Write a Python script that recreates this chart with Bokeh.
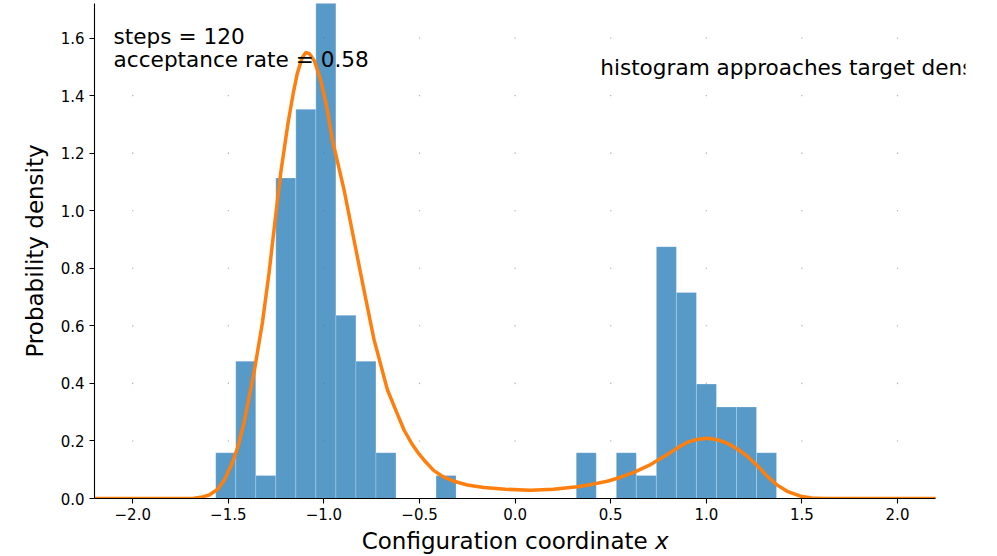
import numpy as np
from bokeh.plotting import figure
from bokeh.models import ColumnDataSource, Range1d, FixedTicker, Label
from bokeh.embed import file_html
from bokeh.resources import INLINE

# Metropolis samples: histogram counts over equal-width bins
n_steps = 120
acceptance_rate = 0.58
bin_start = -1.566
bin_width = 0.10476
counts = [2, 6, 1, 14, 17, 23, 8, 6, 2, 0, 0, 1, 0, 0,
          0, 0, 0, 0, 2, 0, 2, 1, 11, 9, 5, 4, 4, 2]

# Target density
curve_x = [-2.2, -1.75, -1.68, -1.644, -1.60, -1.557, -1.52, -1.479, -1.45, -1.418,
           -1.366, -1.322, -1.287, -1.257, -1.226, -1.188, -1.16, -1.139, -1.115, -1.095,
           -1.075, -1.05, -1.017, -0.985, -0.956, -0.895, -0.843, -0.791, -0.738, -0.668,
           -0.62, -0.581, -0.54, -0.503, -0.465, -0.425, -0.375, -0.320, -0.25, -0.163,
           -0.05, 0.081, 0.2, 0.325, 0.40, 0.482, 0.552, 0.621, 0.70, 0.796,
           0.85, 0.900, 0.95, 1.005, 1.06, 1.110, 1.16, 1.214, 1.27, 1.319,
           1.37, 1.423, 1.493, 1.55, 1.62, 2.2]
curve_y = [0.0, 0.0, 0.001, 0.004, 0.012, 0.031, 0.065, 0.124, 0.18, 0.263,
           0.436, 0.61, 0.784, 0.957, 1.131, 1.304, 1.41, 1.478, 1.53, 1.55,
           1.545, 1.52, 1.455, 1.36, 1.247, 1.073, 0.899, 0.726, 0.552, 0.378,
           0.30, 0.238, 0.19, 0.155, 0.125, 0.097, 0.075, 0.060, 0.047, 0.038,
           0.032, 0.029, 0.032, 0.041, 0.049, 0.060, 0.074, 0.091, 0.115, 0.153,
           0.176, 0.195, 0.205, 0.209, 0.204, 0.192, 0.173, 0.147, 0.112, 0.077,
           0.047, 0.025, 0.008, 0.002, 0.0, 0.0]

x_ticks = [-2.0, -1.5, -1.0, -0.5, 0.0, 0.5, 1.0, 1.5, 2.0]
y_ticks = [0.0, 0.2, 0.4, 0.6, 0.8, 1.0, 1.2, 1.4, 1.6]

FONT = "DejaVu Sans"
X_LO, X_HI = -2.2, 2.2
NBSP = "\u00a0"

counts_arr = np.array(counts, dtype=float)
lefts = bin_start + bin_width * np.arange(len(counts))
density = counts_arr / (n_steps * bin_width)
hist_src = ColumnDataSource(dict(left=lefts, right=lefts + bin_width,
                                 top=density, bottom=np.zeros_like(density)))

# the plotting frame runs a little past the axis so the note can overhang it
p = figure(width=997, height=556, output_backend="svg", toolbar_location=None,
           x_range=Range1d(X_LO, 2.3556), y_range=Range1d(0, 1.72),
           min_border_left=94, min_border_right=32, min_border_top=3,
           min_border_bottom=57)
p.outline_line_color = None
p.background_fill_color = "white"
p.border_fill_color = "white"
p.xgrid.visible = False
p.ygrid.visible = False

# faint grid marks at tick intersections
gx, gy = np.meshgrid(x_ticks, y_ticks[1:])
p.scatter(gx.ravel(), gy.ravel(), size=1.6, color="#bdbdbd", line_color=None)

p.quad(source=hist_src, left="left", right="right", top="top", bottom="bottom",
       fill_color="#1f77b4", fill_alpha=0.75, line_color="white",
       line_alpha=0.4, line_width=0.6)

p.line(curve_x, curve_y, line_color="#ff7f0e", line_width=3.5)

for ax in (p.xaxis[0], p.yaxis[0]):
    ax.axis_line_color = "black"
    ax.axis_line_width = 1.1
    ax.major_tick_line_color = "black"
    ax.major_tick_line_width = 1.1
    ax.major_tick_out = 5
    ax.major_tick_in = 0
    ax.minor_tick_line_color = None
    ax.major_label_text_font = FONT
    ax.major_label_text_font_size = "15px"
    ax.major_label_text_color = "black"
    ax.axis_label_text_font = FONT
    ax.axis_label_text_font_size = "23px"
    ax.axis_label_text_font_style = "normal"
    ax.axis_label_text_color = "black"

p.xaxis.bounds = (X_LO, X_HI)
p.xaxis.ticker = FixedTicker(ticks=x_ticks)
p.yaxis.ticker = FixedTicker(ticks=y_ticks)
p.xaxis.major_label_overrides = {t: f"{t:.1f}".replace("-", "\u2212") for t in x_ticks}
p.yaxis.major_label_overrides = {t: f"{t:.1f}" for t in y_ticks}
p.xaxis.major_label_standoff = 4
p.yaxis.major_label_standoff = 5
# trailing no-break spaces keep the title centred under the drawn axis span
p.xaxis.axis_label = "Configuration coordinate \U0001D639" + NBSP * 4
p.yaxis.axis_label = "Probability density"
p.xaxis.axis_label_standoff = 5
p.xaxis.axis_label_text_line_height = 0.9
p.xaxis.major_label_text_line_height = 0.9
p.yaxis.axis_label_standoff = 10

p.add_layout(Label(x=-2.1, y=1.604, text=f"steps = {n_steps}", text_font=FONT,
                   text_font_size="21.6px", text_color="black",
                   text_baseline="alphabetic"))
p.add_layout(Label(x=-2.1, y=1.524, text=f"acceptance rate = {acceptance_rate:.2f}",
                   text_font=FONT, text_font_size="21.6px", text_color="black",
                   text_baseline="alphabetic"))
p.add_layout(Label(x=0.445, y=1.497, text="histogram approaches target density",
                   text_font=FONT, text_font_size="21.6px", text_color="black",
                   text_baseline="alphabetic"))

open("out.html", "w").write(file_html(p, INLINE))
